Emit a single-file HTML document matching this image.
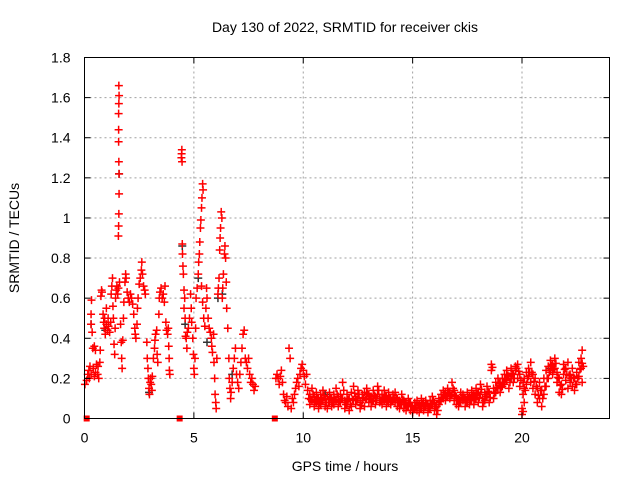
<!DOCTYPE html>
<html><head><meta charset="utf-8"><style>
html,body{margin:0;padding:0;background:#fff;}
svg{display:block;font-family:"Liberation Sans",sans-serif;}
</style></head><body>
<svg id="chart" width="640" height="480" xmlns="http://www.w3.org/2000/svg">
<rect width="640" height="480" fill="#fff"/>
<text x="345" y="32" font-size="14" text-anchor="middle">Day 130 of 2022, SRMTID for receiver ckis</text>
<text transform="translate(19,238) rotate(-90)" font-size="14" text-anchor="middle">SRMTID / TECUs</text>
<text x="345" y="471" font-size="14" text-anchor="middle">GPS time / hours</text>
<g id="grid"></g>
<g id="marks"></g>
<g id="axes"></g>
</svg>
<script>
const xTicks = [0, 5, 10, 15, 20];
const yTicks = [0, 0.2, 0.4, 0.6, 0.8, 1, 1.2, 1.4, 1.6, 1.8];
const yTickLabels = ["0","0.2","0.4","0.6","0.8","1","1.2","1.4","1.6","1.8"];
const hours = [0.02,0.1,0.15,0.2,0.22,0.25,0.3,0.3,0.3,0.32,0.35,0.38,0.4,0.45,0.45,0.5,0.5,0.55,0.6,0.62,0.65,0.7,0.72,0.75,0.78,0.8,
0.85,0.88,0.9,0.92,0.95,1.0,1.0,1.05,1.08,1.1,1.15,1.2,1.22,1.25,1.28,1.3,1.32,1.35,1.38,1.4,1.42,1.45,1.48,
1.55,1.56,1.57,1.58,1.58,1.57,1.56,1.56,1.56,1.57,1.58,1.57,1.52,1.55,1.6,
1.65,1.68,1.7,1.72,1.75,1.78,1.8,1.85,1.88,1.9,1.95,2.0,2.05,2.1,2.15,2.2,2.25,2.3,2.32,2.35,2.4,2.42,2.45,
2.5,2.55,2.6,2.62,2.65,2.7,2.75,2.78,
2.85,2.87,2.9,2.92,2.95,2.97,3.0,3.02,3.05,3.08,3.1,
3.15,3.2,3.22,3.25,3.3,3.32,3.35,
3.4,3.42,3.45,3.5,3.55,3.6,3.65,3.68,
3.72,3.75,3.8,3.83,3.85,3.87,3.88,3.9,
4.43,4.44,4.45,4.46,4.47,4.48,4.5,4.52,4.55,4.55,4.58,4.6,4.62,4.65,4.68,4.7,4.75,4.8,
4.85,4.88,4.9,4.95,4.98,5.0,5.02,5.05,5.08,5.1,
5.15,5.2,5.22,5.25,5.27,5.3,5.32,5.35,5.37,5.4,5.42,5.35,5.4,5.45,
5.5,5.55,5.58,5.6,5.65,5.7,5.75,
5.8,5.82,5.85,5.9,5.92,5.95,5.97,6.0,6.02,6.05,
6.1,6.12,6.15,6.18,6.2,6.22,6.25,6.28,6.3,6.32,6.35,6.4,6.42,6.45,6.48,6.5,
6.55,6.6,6.62,6.65,6.68,6.7,6.75,6.8,6.85,6.9,6.95,7.0,7.05,7.1,7.15,
7.2,7.25,7.3,7.35,7.4,7.45,7.5,7.55,7.6,7.65,7.7,7.75,7.8,
8.75,8.8,8.85,8.9,8.95,9.0,9.05,9.1,9.15,9.2,9.25,9.3,9.35,9.4,
9.45,9.5,9.55,9.6,9.65,9.7,9.75,9.8,9.85,9.9,9.95,10.0,10.05,10.1,10.15,10.2,10.25];
const srmtid = [0.17,0.19,0.22,0.24,0.20,0.26,0.22,0.47,0.52,0.59,0.43,0.35,0.25,0.21,0.36,0.23,0.34,0.27,0.22,0.26,0.2,0.28,0.34,0.61,0.64,0.63,
0.52,0.48,0.45,0.50,0.42,0.47,0.55,0.44,0.5,0.46,0.43,0.48,0.62,0.66,0.7,0.56,0.5,0.37,0.32,0.45,0.6,0.64,0.66,
0.91,0.96,1.02,1.12,1.22,1.28,1.38,1.44,1.52,1.57,1.61,1.66,0.62,0.65,0.68,
0.47,0.38,0.3,0.25,0.39,0.5,0.58,0.68,0.72,0.7,0.63,0.6,0.58,0.62,0.6,0.57,0.52,0.45,0.42,0.4,0.47,0.55,0.6,
0.67,0.7,0.74,0.78,0.72,0.66,0.64,0.62,
0.38,0.3,0.25,0.2,0.15,0.12,0.18,0.2,0.17,0.14,0.21,
0.3,0.35,0.39,0.42,0.44,0.32,0.28,
0.52,0.6,0.63,0.65,0.6,0.62,0.58,0.66,
0.48,0.44,0.42,0.45,0.36,0.3,0.24,0.22,
1.3,1.32,1.34,1.28,0.87,0.82,0.76,0.72,0.64,0.55,0.6,0.5,0.41,0.4,0.35,0.43,0.45,0.5,
0.62,0.55,0.48,0.4,0.32,0.25,0.22,0.3,0.45,0.6,
0.65,0.72,0.78,0.82,0.88,0.95,0.99,1.05,1.1,1.17,1.14,0.66,0.58,0.5,
0.46,0.55,0.65,0.6,0.5,0.45,0.43,
0.4,0.36,0.33,0.42,0.28,0.2,0.12,0.08,0.05,0.3,
0.62,0.65,0.7,0.84,0.9,0.95,1.03,1.0,0.6,0.65,0.72,0.82,0.86,0.8,0.68,0.55,
0.45,0.3,0.2,0.15,0.1,0.13,0.18,0.25,0.3,0.35,0.22,0.18,0.15,0.22,0.28,
0.35,0.42,0.44,0.3,0.28,0.25,0.3,0.22,0.18,0.2,0.17,0.14,0.16,
0.2,0.22,0.2,0.17,0.21,0.24,0.18,0.12,0.09,0.08,0.11,0.06,0.35,0.3,
0.05,0.1,0.08,0.12,0.15,0.18,0.2,0.16,0.22,0.25,0.27,0.24,0.21,0.17,0.22,0.14,0.1];
const bandHours = [10.3,10.4,10.5,10.6,10.7,10.8,10.9,11.0,11.1,11.2,11.3,11.4,11.5,11.6,11.7,11.8,11.9,12.0,12.1,12.2,12.3,12.4,12.5,12.6,12.7,12.8,12.9,13.0,13.1,13.2,13.3,13.4,13.5,13.6,13.7,13.8,13.9,14.0,14.1,14.2,14.3,14.4,14.5,14.6,14.7,14.8,14.9,15.0,15.1,15.2,15.3,15.4,15.5,15.6,15.7,15.8,15.9,16.0,16.1,16.2,16.3,16.4,16.5,16.6,16.7,16.8,16.9,17.0,17.1,17.2,17.3,17.4,17.5,17.6,17.7,17.8,17.9,18.0,18.1,18.2,18.3,18.4,18.5,18.6,18.7,18.8,18.9,19.0,19.1,19.2,19.3,19.4,19.5,19.6,19.7,19.8,19.9,20.0,20.05,20.1,20.2,20.3,20.4,20.5,20.6,20.7,20.8,20.9,21.0,21.1,21.2,21.3,21.4,21.5,21.6,21.7,21.8,21.9,22.0,22.1,22.2,22.3,22.4,22.5,22.6,22.7,22.75];
const bandA = [0.12,0.09,0.06,0.08,0.1,0.07,0.09,0.06,0.11,0.08,0.1,0.07,0.09,0.06,0.12,0.1,0.05,0.07,0.1,0.06,0.09,0.07,0.1,0.08,0.12,0.06,0.1,0.08,0.11,0.09,0.07,0.12,0.1,0.07,0.09,0.11,0.08,0.1,0.12,0.08,0.06,0.09,0.07,0.05,0.08,0.06,0.04,0.06,0.08,0.04,0.07,0.05,0.08,0.06,0.03,0.09,0.07,0.04,0.06,0.1,0.12,0.1,0.13,0.11,0.13,0.12,0.09,0.07,0.1,0.13,0.09,0.06,0.08,0.11,0.09,0.07,0.1,0.08,0.12,0.1,0.13,0.11,0.08,0.24,0.1,0.13,0.15,0.18,0.2,0.22,0.19,0.21,0.2,0.22,0.24,0.2,0.16,0.05,0.12,0.2,0.17,0.25,0.18,0.22,0.12,0.08,0.1,0.14,0.12,0.16,0.2,0.24,0.27,0.25,0.18,0.13,0.17,0.22,0.19,0.28,0.22,0.16,0.2,0.17,0.21,0.3,0.34];
const bandB = [0.07,0.15,0.11,0.13,0.05,0.12,0.14,0.1,0.05,0.13,0.06,0.12,0.15,0.11,0.08,0.18,0.09,0.12,0.04,0.13,0.16,0.11,0.14,0.05,0.09,0.13,0.15,0.12,0.06,0.14,0.11,0.16,0.08,0.12,0.14,0.06,0.13,0.07,0.09,0.13,0.1,0.05,0.12,0.09,0.04,0.1,0.08,0.03,0.05,0.09,0.03,0.1,0.04,0.09,0.07,0.05,0.11,0.08,0.02,0.07,0.09,0.14,0.09,0.15,0.1,0.18,0.14,0.11,0.06,0.08,0.12,0.1,0.13,0.07,0.14,0.12,0.15,0.13,0.17,0.06,0.09,0.16,0.13,0.27,0.15,0.18,0.2,0.13,0.16,0.17,0.24,0.15,0.25,0.18,0.26,0.27,0.22,0.02,0.18,0.08,0.23,0.21,0.28,0.15,0.2,0.15,0.18,0.06,0.2,0.24,0.26,0.29,0.22,0.3,0.23,0.2,0.12,0.27,0.25,0.15,0.18,0.25,0.14,0.23,0.28,0.25,0.18];
const darkHours = [0.3,0.95,1.58,2.95,4.47,4.6,5.2,5.6,6.1,6.3,6.75,11.0,13.5,19.5,21.3];
const darkValues = [0.47,0.44,1.22,0.13,0.86,0.47,0.7,0.38,0.6,0.62,0.22,0.12,0.1,0.2,0.25];
const gapHours = [0.1, 4.35, 8.7];

const X0 = 84.5, X1 = 609.5, Y0 = 418.5, Y1 = 57.5;
const sx = h => X0 + h / 24 * (X1 - X0);
const sy = v => Y0 - v / 1.8 * (Y0 - Y1);
const NS = "http://www.w3.org/2000/svg";
function mk(tag, attrs, parent) {
  const e = document.createElementNS(NS, tag);
  for (const k in attrs) e.setAttribute(k, attrs[k]);
  parent.appendChild(e);
  return e;
}
const grid = document.getElementById('grid');
const marks = document.getElementById('marks');
const axes = document.getElementById('axes');

xTicks.forEach(t => {
  const x = sx(t);
  if (t > 0) {
    const g = mk('line', {x1:x, x2:x, y1:Y0, y2:Y1, stroke:'#a0a0a0', 'stroke-dasharray':'2,3'}, grid);
    
    
  }
  mk('line', {x1:x, x2:x, y1:Y0, y2:Y0-6, stroke:'#000'}, axes);
  mk('line', {x1:x, x2:x, y1:Y1, y2:Y1+6, stroke:'#000'}, axes);
  const lb = mk('text', {x:x, y:Y0+24, 'font-size':14, 'text-anchor':'middle'}, axes);
  lb.textContent = String(t);
  
  
});
yTicks.forEach((t, i) => {
  const y = sy(t);
  if (t > 0 && t < 1.8) {
    const g = mk('line', {x1:X0, x2:X1, y1:y, y2:y, stroke:'#a0a0a0', 'stroke-dasharray':'2,3'}, grid);
    
    
  }
  mk('line', {x1:X0, x2:X0+6, y1:y, y2:y, stroke:'#000'}, axes);
  mk('line', {x1:X1, x2:X1-6, y1:y, y2:y, stroke:'#000'}, axes);
  const lb = mk('text', {x:X0-14, y:y+5, 'font-size':14, 'text-anchor':'end'}, axes);
  lb.textContent = yTickLabels[i];
  
  
});
const frame = mk('rect', {x:X0, y:Y1, width:X1-X0, height:Y0-Y1, fill:'none', stroke:'#000'}, axes);



function plus(h, v, color) {
  const x = sx(h), y = sy(v);
  const p = mk('path', {d:`M${x-4},${y}h8M${x},${y-4}v8`, stroke:color, 'stroke-width':1.5, fill:'none'}, marks);
  
  
}
darkHours.forEach((h, i) => plus(h, darkValues[i], '#333'));
hours.forEach((h, i) => plus(h, srmtid[i], '#ff0000'));
bandHours.forEach((h, i) => {
  plus(h, bandA[i], '#ff0000');
  plus(h, bandB[i], '#ff0000');
  plus(h + 0.05, (bandA[i] + bandB[i]) / 2, '#ff0000');
});
gapHours.forEach(h => {
  const r = mk('rect', {x:sx(h)-3, y:sy(0)-3, width:6, height:6, fill:'#ff0000'}, marks);
  
  
});
</script>
</body></html>
